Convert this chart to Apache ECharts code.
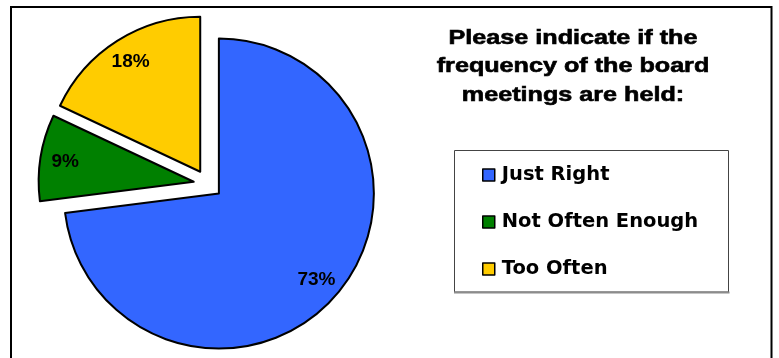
<!DOCTYPE html>
<html>
<head>
<meta charset="utf-8">
<script src="https://cdn.jsdelivr.net/npm/echarts@6/dist/echarts.min.js"></script>
<style>
  html, body { margin: 0; padding: 0; background: #fff; }
  #chart { width: 779px; height: 358px; }
</style>
</head>
<body>
<div id="chart"></div>
<script>
// Survey answers (percent of respondents)
const categories = ['Just Right', 'Not Often Enough', 'Too Often'];
const values = [73, 9, 18];
const sliceColors = ['#3366FF', '#008000', '#FFCC00'];
const titleLines = ['Please indicate if the', 'frequency of the board', 'meetings are held:'];

const pieCenter = [208, 184];
const pieRadius = 155;
const explode = 14.5;

const chart = echarts.init(document.getElementById('chart'), null, { renderer: 'canvas' });

const sliceData = categories.map((name, i) => ({
  name: name,
  value: values[i],
  selected: true,
  itemStyle: { color: sliceColors[i] }
}));

// transparent ring carrying the percentage labels at ~0.8 of the radius
const labelData = categories.map((name, i) => ({
  name: name,
  value: values[i],
  selected: true
}));

chart.setOption({
  animation: false,
  backgroundColor: '#ffffff',
  legend: {
    orient: 'vertical',
    left: 482,
    top: 164,
    padding: 0,
    itemWidth: 12,
    itemHeight: 12,
    itemGap: 25,
    icon: 'rect',
    selectedMode: false,
    data: categories,
    itemStyle: { borderColor: '#000', borderWidth: 1.5 },
    textStyle: {
      fontFamily: 'DejaVu Sans',
      fontWeight: 'bold',
      fontSize: 19.5,
      lineHeight: 22,
      color: '#000',
      padding: [0, 0, 0, 2]
    }
  },
  graphic: [
    {
      type: 'rect',
      z: -1,
      shape: { x: 11, y: 7, width: 760.5, height: 400 },
      style: { fill: 'none', stroke: '#000', lineWidth: 2 }
    },
    {
      type: 'rect',
      z: -1,
      shape: { x: 454.5, y: 150.5, width: 274, height: 141.5 },
      style: { fill: '#fff', stroke: '#444', lineWidth: 1 }
    },
    {
      type: 'line',
      z: -1,
      shape: { x1: 454, y1: 292.5, x2: 729.5, y2: 292.5 },
      style: { stroke: '#8c8c8c', lineWidth: 2 }
    },
    {
      type: 'text',
      x: 573,
      y: 24,
      scaleX: 1.29,
      style: {
        text: titleLines.join('\n'),
        fontFamily: 'Liberation Sans, Arial, sans-serif',
        fontWeight: 'bold',
        fontSize: 19.5,
        lineHeight: 28.5,
        fill: '#000',
        stroke: '#000',
        lineWidth: 0.6,
        textAlign: 'center',
        textVerticalAlign: 'top'
      }
    }
  ],
  series: [
    {
      name: 'slices',
      type: 'pie',
      center: pieCenter,
      radius: [0, pieRadius],
      startAngle: 90,
      clockwise: true,
      selectedMode: 'multiple',
      selectedOffset: explode,
      avoidLabelOverlap: false,
      label: { show: false },
      labelLine: { show: false },
      emphasis: { disabled: true },
      itemStyle: { borderColor: '#000', borderWidth: 2 },
      data: sliceData
    },
    {
      name: 'labels',
      type: 'pie',
      silent: true,
      z: 3,
      center: pieCenter,
      radius: [99, pieRadius],
      startAngle: 90,
      clockwise: true,
      selectedMode: 'multiple',
      selectedOffset: explode,
      avoidLabelOverlap: false,
      emphasis: { disabled: true },
      itemStyle: { color: 'rgba(0,0,0,0)', borderWidth: 0 },
      labelLine: { show: false },
      label: {
        show: true,
        position: 'inside',
        formatter: '{c}%',
        fontFamily: 'Liberation Sans, Arial, sans-serif',
        fontWeight: 'bold',
        fontSize: 19,
        color: '#000'
      },
      data: labelData
    }
  ]
});
</script>
</body>
</html>
